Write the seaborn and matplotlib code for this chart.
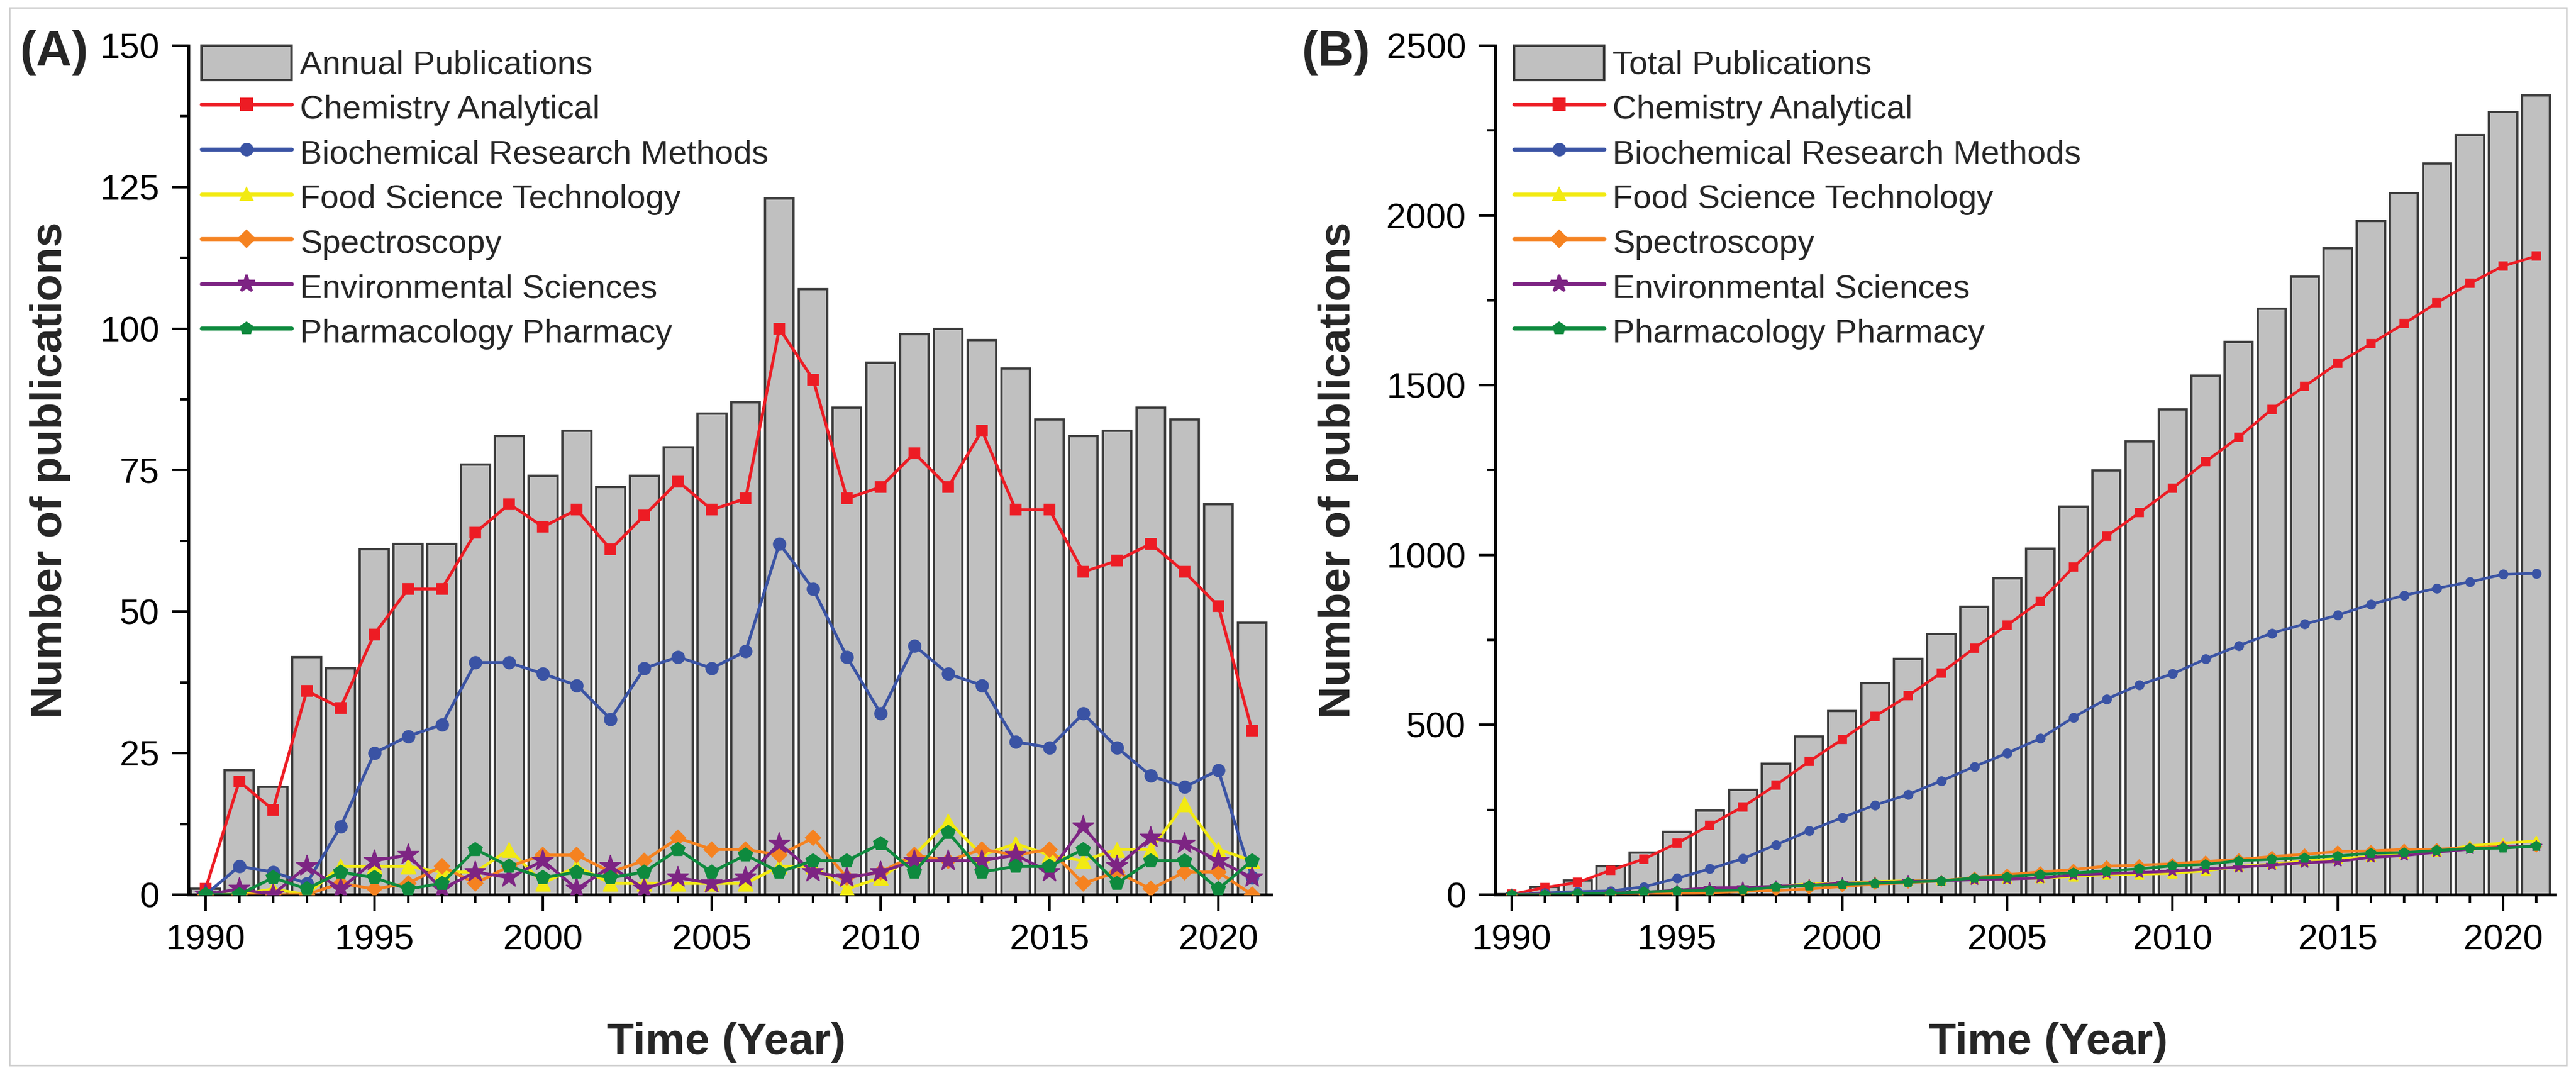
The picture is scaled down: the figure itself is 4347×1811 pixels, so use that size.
import matplotlib
matplotlib.use("Agg")
import matplotlib.pyplot as plt
import seaborn as sns
from matplotlib.lines import Line2D
from matplotlib.patches import Patch, Rectangle
from matplotlib.ticker import MultipleLocator

# data
years = list(range(1990, 2022))

annual_total = [1, 22, 19, 42, 40, 61, 62, 62, 76, 81, 74, 82, 72, 74, 79, 85,
                87, 123, 107, 86, 94, 99, 100, 98, 93, 84, 81, 82, 86, 84, 69, 48]
annual_chem = [1, 20, 15, 36, 33, 46, 54, 54, 64, 69, 65, 68, 61, 67, 73, 68,
               70, 100, 91, 70, 72, 78, 72, 82, 68, 68, 57, 59, 62, 57, 51, 29]
annual_biochem = [0, 5, 4, 2, 12, 25, 28, 30, 41, 41, 39, 37, 31, 40, 42, 40,
                  43, 62, 54, 42, 32, 44, 39, 37, 27, 26, 32, 26, 21, 19, 22, 3]
annual_food = [0, 0, 1, 0, 5, 5, 5, 4, 4, 8, 2, 5, 2, 2, 2, 2,
               2, 5, 5, 1, 3, 7, 13, 7, 9, 7, 6, 8, 8, 16, 8, 6]
annual_spectro = [0, 0, 0, 0, 2, 1, 2, 5, 2, 5, 7, 7, 4, 6, 10, 8,
                  8, 7, 10, 3, 4, 7, 6, 8, 7, 8, 2, 4, 1, 4, 4, 0]
annual_env = [0, 1, 0, 5, 1, 6, 7, 1, 4, 3, 6, 1, 5, 1, 3, 2,
              3, 9, 4, 3, 4, 6, 6, 6, 7, 4, 12, 5, 10, 9, 6, 3]
annual_pharm = [0, 0, 3, 1, 4, 3, 1, 2, 8, 5, 3, 4, 3, 4, 8, 4,
                7, 4, 6, 6, 9, 4, 11, 4, 5, 5, 8, 2, 6, 6, 1, 6]

total_pubs = [1, 23, 42, 84, 124, 185, 247, 309, 385, 466, 540, 622, 694, 768, 847, 932,
              1019, 1142, 1249, 1335, 1429, 1528, 1628, 1726, 1819, 1903, 1984, 2066, 2152, 2236, 2305, 2353]
total_chem = [1, 21, 36, 72, 105, 151, 205, 259, 323, 392, 457, 525, 586, 653, 726, 794,
              864, 964, 1055, 1125, 1197, 1275, 1347, 1429, 1497, 1565, 1622, 1681, 1743, 1800, 1851, 1880]
total_biochem = [0, 5, 9, 11, 23, 48, 76, 106, 147, 188, 227, 264, 295, 335, 377, 417,
                 460, 522, 576, 618, 650, 694, 733, 770, 797, 823, 855, 881, 902, 921, 943, 946]
total_food = [0, 0, 1, 1, 6, 11, 16, 20, 24, 32, 34, 39, 41, 43, 45, 47,
              49, 54, 59, 60, 63, 70, 83, 90, 99, 106, 112, 120, 128, 144, 152, 158]
total_spectro = [0, 0, 0, 0, 2, 3, 5, 10, 12, 17, 24, 31, 35, 41, 51, 59,
                 67, 74, 84, 87, 91, 98, 104, 112, 119, 127, 129, 133, 134, 138, 142, 142]
total_env = [0, 1, 1, 6, 7, 13, 20, 21, 25, 28, 34, 35, 40, 41, 44, 46,
             49, 58, 62, 65, 69, 75, 81, 87, 94, 98, 110, 115, 125, 134, 140, 143]
total_pharm = [0, 0, 3, 4, 8, 11, 12, 14, 22, 27, 30, 34, 37, 41, 49, 53,
               60, 64, 70, 76, 85, 89, 100, 104, 109, 114, 122, 124, 130, 136, 137, 143]

series_names = ["Chemistry Analytical", "Biochemical Research Methods",
                "Food Science Technology", "Spectroscopy",
                "Environmental Sciences", "Pharmacology Pharmacy"]

# styles
colors = ["#ED1C24", "#3A53A4", "#F2EA12", "#F58220", "#7D2483", "#0E8A3E"]
markers = ["s", "o", "^", "D", "*", "p"]
msize_a = [4.5, 5, 6, 4.5, 9, 6]
msize_b = [3.2, 3.6, 4, 3.2, 5, 4]
bar_color = "#C0C0C0"
bar_edge = "#3a3a3a"

sns.set_theme(style="ticks")
plt.rcParams["font.family"] = ["Liberation Sans", "DejaVu Sans"]
plt.rcParams["axes.linewidth"] = 1.2

fig = plt.figure(figsize=(4347 / 300, 1811 / 300), dpi=300)
axA = fig.add_axes([0.0732, 0.1662, 0.4202, 0.7913])
axB = fig.add_axes([0.5804, 0.1662, 0.4113, 0.7913])


def draw_panel(ax, bars, lines, bar_label, msizes, lw):
    sns.barplot(x=years, y=bars, native_scale=True, width=0.85, color=bar_color,
                edgecolor=bar_edge, linewidth=0.9, saturation=1, ax=ax, zorder=1)
    for vals, c, m, ms in zip(lines, colors, markers, msizes):
        sns.lineplot(x=years, y=vals, color=c, marker=m, markersize=ms, linewidth=lw,
                     markeredgecolor=c, markeredgewidth=0.4, errorbar=None, ax=ax, zorder=3)
    handles = [Patch(facecolor=bar_color, edgecolor=bar_edge, linewidth=1.0, label=bar_label)]
    for name, c, m in zip(series_names, colors, markers):
        handles.append(Line2D([], [], color=c, marker=m, lw=1.6,
                              markersize=7 if m == "*" else 4.5, label=name))
    return handles


hA = draw_panel(axA, annual_total,
                [annual_chem, annual_biochem, annual_food, annual_spectro, annual_env, annual_pharm],
                "Annual Publications", msize_a, 1.2)
hB = draw_panel(axB, total_pubs,
                [total_chem, total_biochem, total_food, total_spectro, total_env, total_pharm],
                "Total Publications", msize_b, 1.1)

for ax, top, step, h, lx, ylx, xlx in [(axA, 150, 25, hA, 0.012, -0.128, 0.497),
                                      (axB, 2500, 500, hB, 0.018, -0.148, 0.522)]:
    ax.set_xlim(1989.5, 2021.56)
    ax.set_ylim(0, top)
    ax.xaxis.set_major_locator(MultipleLocator(5))
    ax.xaxis.set_minor_locator(MultipleLocator(1))
    ax.yaxis.set_major_locator(MultipleLocator(step))
    ax.yaxis.set_minor_locator(MultipleLocator(step / 2))
    ax.tick_params(which="major", direction="out", length=6.8, width=1.0,
                   labelsize=14.5, pad=5, color="black", labelcolor="black")
    ax.tick_params(which="minor", direction="out", length=3.4, width=1.0, color="black")
    ax.set_xticks(range(1990, 2021, 5))
    ax.set_xticklabels([str(y) for y in range(1990, 2021, 5)])
    sns.despine(ax=ax)
    for s in ["left", "bottom"]:
        ax.spines[s].set_color("black")
        ax.spines[s].set_linewidth(1.2)
    ax.set_xlabel("Time (Year)", fontsize=18, fontweight="bold")
    ax.set_ylabel("Number of publications", fontsize=18, fontweight="bold")
    ax.xaxis.set_label_coords(xlx, -0.174)
    ax.xaxis.label.set_va("center")
    ax.yaxis.set_label_coords(ylx, 0.5)
    ax.yaxis.label.set_va("center")
    ax.grid(False)
    ax.legend(handles=h, loc="upper left", bbox_to_anchor=(lx, 1.0), frameon=False,
              fontsize=13.5, handlelength=2.7, handletextpad=0.25, labelspacing=0.28,
              borderaxespad=0, borderpad=0, handleheight=1.2)

fig.text(0.0212, 0.951, "(A)", fontsize=20, fontweight="bold", ha="center", va="center")
fig.text(0.5186, 0.951, "(B)", fontsize=20, fontweight="bold", ha="center", va="center")

fig.patches.append(Rectangle((16 / 4347, 13 / 1811), 1 - 32 / 4347, 1 - 26 / 1811,
                             transform=fig.transFigure, fill=False, ec="#cccccc", lw=0.6))

fig.savefig("out.png", dpi=300)
